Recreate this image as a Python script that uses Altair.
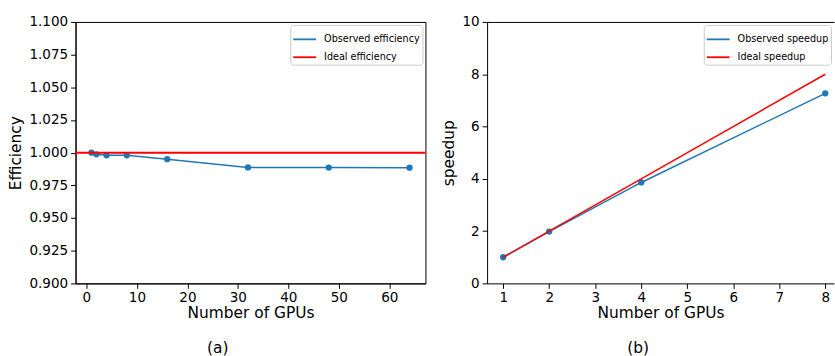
import altair as alt
import pandas as pd

# ---- data ----
gpus_eff = [1, 2, 4, 8, 16, 32, 48, 64]
efficiency_observed = [1.000, 0.9987, 0.998, 0.998, 0.995, 0.9887, 0.9886, 0.9885]
efficiency_ideal = [1.0]
eff_series = ["Observed efficiency", "Ideal efficiency"]
eff_x_ticks = [0, 10, 20, 30, 40, 50, 60]
eff_y_ticks = [0.900, 0.925, 0.950, 0.975, 1.000, 1.025, 1.050, 1.075, 1.100]

gpus_speed = [1, 2, 4, 8]
speedup_observed = [1.0, 1.98, 3.86, 7.27]
speedup_ideal = [1, 2, 4, 8]
spd_series = ["Observed speedup", "Ideal speedup"]
spd_x_ticks = [1, 2, 3, 4, 5, 6, 7, 8]
spd_y_ticks = [0, 2, 4, 6, 8, 10]

FONT = "DejaVu Sans"
BLUE = "#1f77b4"
RED = "#ff0000"

LEFT_W, RIGHT_W, H = 352, 349, 263


def legend():
    return alt.Legend(
        title=None, orient="top-right", offset=3, padding=2,
        fillColor="white", strokeColor="#cccccc", cornerRadius=3,
        symbolType="stroke", symbolSize=529, symbolStrokeWidth=1.8,
        labelFontSize=9.7, labelFont=FONT, labelColor="black",
        labelOffset=7, rowPadding=0,
    )


def caption(txt):
    return alt.TitleParams(txt, orient="bottom", frame="bounds", anchor="middle",
                           fontSize=15.5, font=FONT, fontWeight="normal",
                           color="black", offset=20)


# ---- panel (a) ----
df_eff = pd.DataFrame({"gpus": gpus_eff, "value": efficiency_observed,
                       "series": eff_series[0]})
df_eff_ideal = pd.DataFrame({"value": efficiency_ideal, "series": eff_series[1]})

eff_color = alt.Color("series:N", scale=alt.Scale(domain=eff_series, range=[BLUE, RED]),
                      legend=legend())
xe = alt.X("gpus:Q", scale=alt.Scale(domain=[-2.15, 67.15], nice=False, zero=False),
           axis=alt.Axis(values=eff_x_ticks, format="d", title="Number of GPUs"))
ye = alt.Y("value:Q", scale=alt.Scale(domain=[0.9, 1.1], nice=False, zero=False),
           axis=alt.Axis(values=eff_y_ticks, format=".3f", title="Efficiency",
                         labelOverlap=False))

eff_line = alt.Chart(df_eff).mark_line(strokeWidth=1.5).encode(x=xe, y=ye, color=eff_color)
eff_pts = alt.Chart(df_eff).mark_circle(size=40, opacity=1, color=BLUE).encode(x=xe, y=ye)
eff_rule = alt.Chart(df_eff_ideal).mark_rule(strokeWidth=2).encode(y=ye, color=eff_color)

left = alt.layer(eff_line, eff_pts, eff_rule).properties(
    width=LEFT_W, height=H, title=caption("(a)"),
    view=alt.ViewBackground(stroke="black", strokeWidth=1))

# ---- panel (b) ----
df_spd = pd.DataFrame({"gpus": gpus_speed, "value": speedup_observed,
                       "series": spd_series[0]})
df_spd_ideal = pd.DataFrame({"gpus": gpus_speed, "value": speedup_ideal,
                             "series": spd_series[1]})

spd_color = alt.Color("series:N", scale=alt.Scale(domain=spd_series, range=[BLUE, RED]),
                      legend=legend())
xs = alt.X("gpus:Q", scale=alt.Scale(domain=[0.65, 8.19], nice=False, zero=False),
           axis=alt.Axis(values=spd_x_ticks, format="d", title="Number of GPUs"))
ys = alt.Y("value:Q", scale=alt.Scale(domain=[0, 10], nice=False, zero=False),
           axis=alt.Axis(values=spd_y_ticks, format="d", title="speedup"))

spd_line = alt.Chart(df_spd).mark_line(strokeWidth=1.5).encode(x=xs, y=ys, color=spd_color)
spd_pts = alt.Chart(df_spd).mark_circle(size=40, opacity=1, color=BLUE).encode(x=xs, y=ys)
spd_ideal = alt.Chart(df_spd_ideal).mark_line(strokeWidth=1.5).encode(
    x=xs, y=ys, color=spd_color)

# the right spine falls outside the reference's picture: stroke only the top edge
right = alt.layer(spd_line, spd_pts, spd_ideal).properties(
    width=RIGHT_W, height=H, title=caption("(b)"),
    view=alt.ViewBackground(stroke="black", strokeWidth=1,
                            strokeDash=[RIGHT_W, 2 * H + RIGHT_W + 10]))

chart = (
    alt.hconcat(left, right, spacing=14)
    .resolve_scale(color="independent")
    .properties(padding={"left": 8, "top": 13, "right": 0, "bottom": 0},
                background="white")
    .configure_axis(
        grid=False, domainColor="black", domainWidth=1, tickColor="black",
        tickWidth=1, tickSize=5, labelColor="black", titleColor="black",
        labelFont=FONT, titleFont=FONT, labelFontSize=13.6, titleFontSize=15.5,
        titleFontWeight="normal", labelPadding=3, labelOverlap=False,
    )
    .configure_axisX(labelPadding=2, titlePadding=2)
    .configure_axisY(titlePadding=5)
)

chart.save("out.html", embed_options={"renderer": "svg", "actions": False})
